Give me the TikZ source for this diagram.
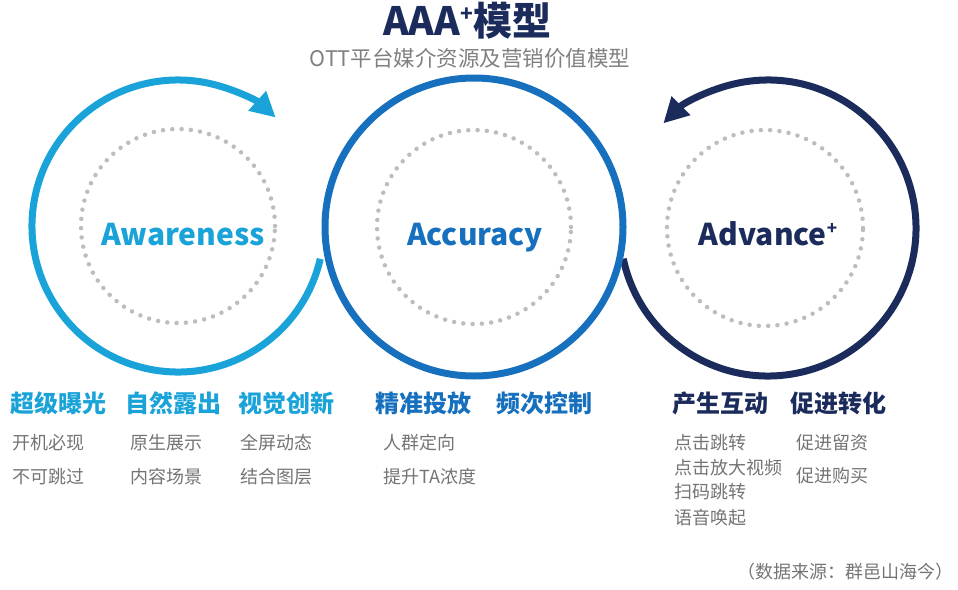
\documentclass[tikz,border=0pt]{standalone}
\usepackage{fontspec}
\setmainfont{Noto Sans CJK SC}
\usetikzlibrary{arrows.meta,calc}
\definecolor{cLight}{HTML}{1AA3D9}
\definecolor{cMid}{HTML}{1670BE}
\definecolor{cNavy}{HTML}{1B2B5C}
\definecolor{cGray}{HTML}{747474}
\definecolor{cSub}{HTML}{808080}
\definecolor{cDot}{HTML}{BDBDBD}
\tikzset{
  ring/.style={line width=7pt},
  dotring/.style={cDot, line width=4.5pt, line cap=round, dash pattern=on 0pt off 9.3pt},
  bigword/.style={font=\fontsize{30}{30}\selectfont\bfseries, inner sep=0pt, anchor=base},
  head/.style={font=\fontsize{24}{24}\selectfont\bfseries, anchor=west, inner sep=0pt},
  item/.style={font=\fontsize{18}{18}\selectfont, text=cGray, anchor=west, inner sep=0pt},
  tip/.style={-{Triangle[length=25pt,width=25pt]}}
}
\begin{document}
\begin{tikzpicture}[x=1pt,y=1pt]
\useasboundingbox (0,0) rectangle (958,-589);
% centres
\coordinate (cL) at (178,-226);
\coordinate (cM) at (474,-227);
\coordinate (cR) at (768,-228);
% outer arcs
\draw[ring, cLight, tip] ($(cL)+(-13:146)$) arc[start angle=-13, end angle=-312, radius=146];
\draw[ring, cNavy, tip] ($(cR)+(192:148)$) arc[start angle=192, end angle=495, radius=148];
\draw[ring, cMid] (cM) circle[radius=149];
% dotted inner circles
\draw[dotring] (cL) circle[radius=97];
\draw[dotring] (cM) circle[radius=97];
\draw[dotring] ($(cR)+(-3,0)$) circle[radius=98];
% big words
\node[bigword, text=cLight] (aw) at (183,-245) {Awareness};
\node[bigword, text=cMid] (ac) at (475,-245) {Accuracy};
\node[bigword, text=cNavy] (ad) at (768,-245) {Advance\raisebox{0.35em}{\fontsize{17}{17}\selectfont +}};
% title
\node[font=\fontsize{39}{39}\selectfont\bfseries, text=cNavy, inner sep=0pt] (title) at (467,-21) {AAA\raisebox{0.38em}{\fontsize{21}{21}\selectfont +}模型};
\node[font=\fontsize{21.5}{21.5}\selectfont, text=cSub, inner sep=0pt] (sub) at (470,-58) {OTT平台媒介资源及营销价值模型};
% headers
\node[head, text=cLight] (h1) at (10,-403) {超级曝光};
\node[head, text=cLight] (h2) at (125,-403) {自然露出};
\node[head, text=cLight] (h3) at (238,-403) {视觉创新};
\node[head, text=cMid] (h4) at (375,-403) {精准投放};
\node[head, text=cMid] (h5) at (496,-403) {频次控制};
\node[head, text=cNavy] (h6) at (672,-403) {产生互动};
\node[head, text=cNavy] (h7) at (790,-403) {促进转化};
% items
\node[item] (i11) at (12,-443) {开机必现};
\node[item] (i12) at (12,-477) {不可跳过};
\node[item] (i21) at (130,-443) {原生展示};
\node[item] (i22) at (130,-477) {内容场景};
\node[item] (i31) at (240,-443) {全屏动态};
\node[item] (i32) at (240,-477) {结合图层};
\node[item] (i41) at (383,-443) {人群定向};
\node[item] (i42) at (383,-477) {提升TA浓度};
\node[item] (i61) at (674,-443) {点击跳转};
\node[item] (i62) at (674,-468) {点击放大视频};
\node[item] (i63) at (674,-492) {扫码跳转};
\node[item] (i64) at (674,-518) {语音唤起};
\node[item] (i71) at (796,-443) {促进留资};
\node[item] (i72) at (796,-476) {促进购买};
% source
\node[font=\fontsize{18}{18}\selectfont, text=cGray, anchor=east, inner sep=0pt] (src) at (954,-572) {（数据来源：群邑山海今）};
\end{tikzpicture}
\end{document}
